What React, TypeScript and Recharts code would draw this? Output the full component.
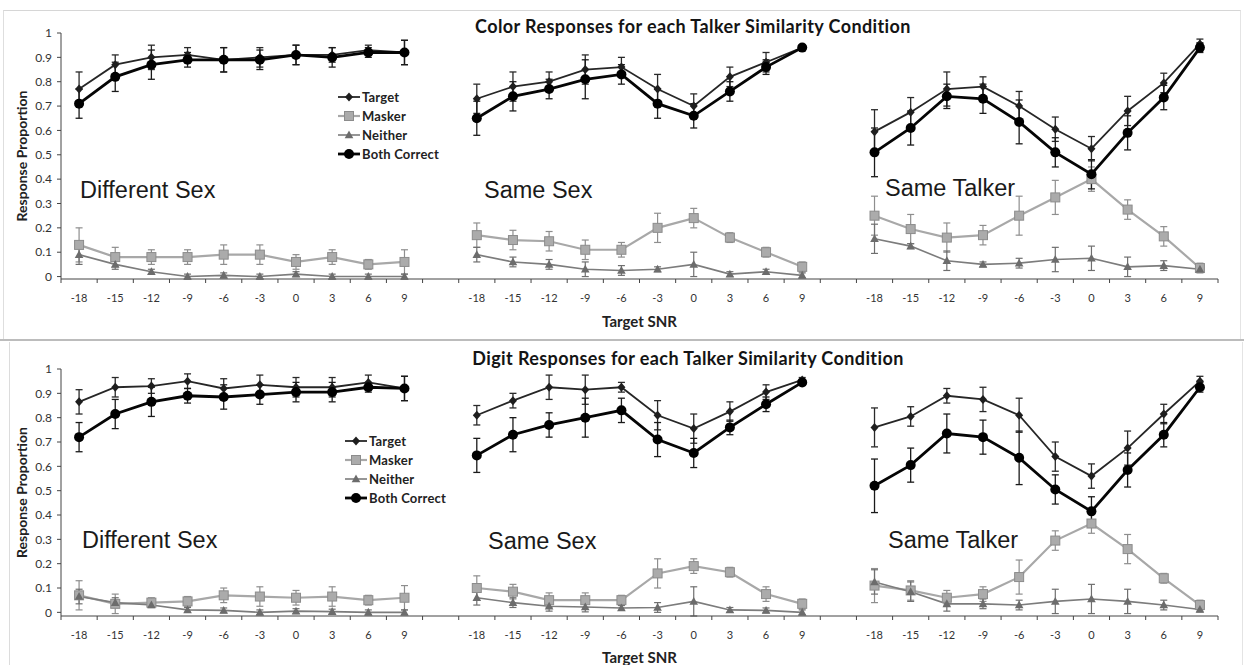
import React from 'react';
import { LineChart, Line, XAxis, YAxis, ErrorBar, Legend, Label } from 'recharts';

// SNR levels (dB) repeated for each talker-similarity condition
const snrLabels = ['-18', '-15', '-12', '-9', '-6', '-3', '0', '3', '6', '9'];
const conditions = ['Different Sex', 'Same Sex', 'Same Talker'];
const seriesNames = ['Target', 'Masker', 'Neither', 'Both Correct'];
const yTicks = [0, 0.1, 0.2, 0.3, 0.4, 0.5, 0.6, 0.7, 0.8, 0.9, 1];

// Color responses: Different Sex, Same Sex, Same Talker (10 SNRs each)
const colorTarget = [
  0.77, 0.87, 0.9, 0.91, 0.89, 0.9, 0.91, 0.91, 0.93, 0.92,
  0.73, 0.78, 0.8, 0.85, 0.86, 0.77, 0.7, 0.82, 0.88, 0.94,
  0.595, 0.675, 0.77, 0.78, 0.7, 0.605, 0.525, 0.68, 0.795, 0.955,
];
const colorTargetErr = [
  0.07, 0.04, 0.05, 0.03, 0.05, 0.04, 0.04, 0.03, 0.02, 0.05,
  0.06, 0.06, 0.04, 0.06, 0.04, 0.06, 0.05, 0.04, 0.04, 0.01,
  0.09, 0.06, 0.07, 0.04, 0.06, 0.05, 0.05, 0.06, 0.04, 0.02,
];
const colorMasker = [
  0.13, 0.08, 0.08, 0.08, 0.09, 0.09, 0.06, 0.08, 0.05, 0.06,
  0.17, 0.15, 0.145, 0.11, 0.11, 0.2, 0.24, 0.16, 0.1, 0.04,
  0.25, 0.195, 0.16, 0.17, 0.25, 0.325, 0.4, 0.275, 0.165, 0.035,
];
const colorMaskerErr = [
  0.07, 0.04, 0.03, 0.03, 0.04, 0.04, 0.03, 0.03, 0.02, 0.05,
  0.05, 0.04, 0.04, 0.04, 0.03, 0.06, 0.04, 0.02, 0.02, 0.02,
  0.08, 0.06, 0.06, 0.04, 0.08, 0.07, 0.05, 0.04, 0.04, 0.02,
];
const colorNeither = [
  0.09, 0.05, 0.02, 0.0, 0.005, 0.0, 0.01, 0.0, 0.0, 0.0,
  0.09, 0.06, 0.05, 0.03, 0.025, 0.03, 0.05, 0.01, 0.02, 0.005,
  0.155, 0.125, 0.065, 0.05, 0.055, 0.07, 0.075, 0.04, 0.045, 0.03,
];
const colorNeitherErr = [
  0.04, 0.02, 0.01, 0.01, 0.01, 0.01, 0.01, 0.01, 0.01, 0.01,
  0.03, 0.02, 0.02, 0.03, 0.02, 0.01, 0.05, 0.01, 0.01, 0.01,
  0.06, 0.01, 0.04, 0.01, 0.02, 0.05, 0.05, 0.04, 0.02, 0.01,
];
const colorBoth = [
  0.71, 0.82, 0.87, 0.89, 0.89, 0.89, 0.91, 0.9, 0.92, 0.92,
  0.65, 0.74, 0.77, 0.81, 0.83, 0.71, 0.66, 0.76, 0.86, 0.94,
  0.51, 0.61, 0.74, 0.73, 0.635, 0.51, 0.42, 0.59, 0.735, 0.94,
];
const colorBothErr = [
  0.06, 0.06, 0.06, 0.03, 0.05, 0.04, 0.04, 0.04, 0.02, 0.05,
  0.07, 0.06, 0.04, 0.08, 0.04, 0.06, 0.05, 0.04, 0.03, 0.01,
  0.1, 0.07, 0.05, 0.06, 0.09, 0.06, 0.06, 0.07, 0.05, 0.02,
];

// Digit responses: Different Sex, Same Sex, Same Talker (10 SNRs each)
const digitTarget = [
  0.865, 0.925, 0.93, 0.95, 0.92, 0.935, 0.925, 0.925, 0.945, 0.92,
  0.81, 0.87, 0.925, 0.915, 0.925, 0.81, 0.755, 0.825, 0.905, 0.955,
  0.76, 0.805, 0.89, 0.875, 0.81, 0.64, 0.56, 0.675, 0.815, 0.95,
];
const digitTargetErr = [
  0.05, 0.04, 0.03, 0.03, 0.04, 0.04, 0.04, 0.04, 0.03, 0.05,
  0.04, 0.03, 0.05, 0.06, 0.02, 0.06, 0.06, 0.04, 0.03, 0.01,
  0.08, 0.04, 0.03, 0.05, 0.07, 0.06, 0.05, 0.07, 0.04, 0.02,
];
const digitMasker = [
  0.07, 0.035, 0.04, 0.045, 0.07, 0.065, 0.06, 0.065, 0.05, 0.06,
  0.1, 0.085, 0.05, 0.05, 0.05, 0.16, 0.19, 0.165, 0.075, 0.035,
  0.11, 0.09, 0.06, 0.075, 0.145, 0.295, 0.365, 0.26, 0.14, 0.03,
];
const digitMaskerErr = [
  0.06, 0.04, 0.02, 0.02, 0.03, 0.04, 0.03, 0.04, 0.02, 0.05,
  0.05, 0.03, 0.03, 0.03, 0.02, 0.06, 0.03, 0.02, 0.03, 0.02,
  0.07, 0.04, 0.03, 0.03, 0.07, 0.04, 0.04, 0.06, 0.02, 0.02,
];
const digitNeither = [
  0.065, 0.04, 0.03, 0.01, 0.008, 0.0, 0.005, 0.003, 0.0, 0.0,
  0.06, 0.04, 0.025, 0.022, 0.018, 0.02, 0.045, 0.01, 0.008, 0.0,
  0.125, 0.085, 0.035, 0.035, 0.03, 0.045, 0.055, 0.045, 0.03, 0.012,
];
const digitNeitherErr = [
  0.03, 0.02, 0.01, 0.01, 0.01, 0.01, 0.01, 0.01, 0.01, 0.01,
  0.03, 0.02, 0.02, 0.02, 0.01, 0.02, 0.06, 0.01, 0.01, 0.01,
  0.05, 0.04, 0.03, 0.02, 0.02, 0.05, 0.06, 0.05, 0.02, 0.01,
];
const digitBoth = [
  0.72, 0.815, 0.865, 0.89, 0.885, 0.895, 0.905, 0.905, 0.925, 0.92,
  0.645, 0.73, 0.77, 0.8, 0.83, 0.71, 0.655, 0.76, 0.855, 0.945,
  0.52, 0.605, 0.735, 0.72, 0.635, 0.505, 0.415, 0.585, 0.73, 0.925,
];
const digitBothErr = [
  0.06, 0.06, 0.06, 0.03, 0.05, 0.04, 0.04, 0.04, 0.02, 0.05,
  0.07, 0.07, 0.05, 0.08, 0.05, 0.07, 0.06, 0.03, 0.03, 0.01,
  0.11, 0.07, 0.08, 0.07, 0.11, 0.06, 0.06, 0.07, 0.05, 0.02,
];

type Row = {
  pos: number;
  label?: string;
  target: number | null;
  targetErr: number | null;
  masker: number | null;
  maskerErr: number | null;
  neither: number | null;
  neitherErr: number | null;
  both: number | null;
  bothErr: number | null;
};

// One x slot per SNR, with an empty slot between conditions so the lines break
function buildRows(
  t: number[], te: number[], m: number[], me: number[],
  n: number[], ne: number[], b: number[], be: number[]
): Row[] {
  const rows: Row[] = [];
  conditions.forEach((_, g) => {
    if (g > 0) {
      rows.push({
        pos: g * 11 - 1, target: null, targetErr: null, masker: null, maskerErr: null,
        neither: null, neitherErr: null, both: null, bothErr: null,
      });
    }
    snrLabels.forEach((lbl, i) => {
      const k = g * 10 + i;
      rows.push({
        pos: g * 11 + i, label: lbl,
        target: t[k], targetErr: te[k],
        masker: m[k], maskerErr: me[k],
        neither: n[k], neitherErr: ne[k],
        both: b[k], bothErr: be[k],
      });
    });
  });
  return rows;
}

const colorRows = buildRows(colorTarget, colorTargetErr, colorMasker, colorMaskerErr,
  colorNeither, colorNeitherErr, colorBoth, colorBothErr);
const digitRows = buildRows(digitTarget, digitTargetErr, digitMasker, digitMaskerErr,
  digitNeither, digitNeitherErr, digitBoth, digitBothErr);

const FONT = 'Lato, "Open Sans", sans-serif';

const STYLE = {
  target: { stroke: '#262626', width: 1.8, bar: '#2a2a2a' },
  masker: { stroke: '#a8a8a8', width: 2.2, bar: '#8e8e8e' },
  neither: { stroke: '#7c7c7c', width: 1.6, bar: '#6f6f6f' },
  both: { stroke: '#050505', width: 2.8, bar: '#1a1a1a' },
};

// Marker shapes
const diamond = (cx: number, cy: number, key?: string | number) => (
  <path key={key} d={`M${cx},${cy - 4.5}L${cx + 4},${cy}L${cx},${cy + 4.5}L${cx - 4},${cy}Z`} fill="#1e1e1e" />
);
const square = (cx: number, cy: number, key?: string | number) => (
  <rect key={key} x={cx - 4.5} y={cy - 4.5} width={9} height={9} fill="#ababab" stroke="#8c8c8c" strokeWidth={1} />
);
const triangle = (cx: number, cy: number, key?: string | number) => (
  <path key={key} d={`M${cx},${cy - 4.5}L${cx + 4.3},${cy + 3.3}L${cx - 4.3},${cy + 3.3}Z`} fill="#6c6c6c" />
);
const circle = (cx: number, cy: number, key?: string | number) => (
  <circle key={key} cx={cx} cy={cy} r={5} fill="#000" />
);

const makeDot = (shape: (cx: number, cy: number, key?: string | number) => React.ReactElement) =>
  (props: any) => {
    const { cx, cy, index } = props;
    if (cx == null || cy == null || Number.isNaN(cx) || Number.isNaN(cy)) {
      return <g key={`d-${index}`} />;
    }
    return shape(cx, cy, `d-${index}`);
  };

const legendItems = [
  { name: seriesNames[0], style: STYLE.target, shape: diamond },
  { name: seriesNames[1], style: STYLE.masker, shape: square },
  { name: seriesNames[2], style: STYLE.neither, shape: triangle },
  { name: seriesNames[3], style: STYLE.both, shape: circle },
];

const LegendBox = () => (
  <div style={{ fontFamily: FONT, fontSize: 13, fontWeight: 700, color: '#222', letterSpacing: 0.2 }}>
    {legendItems.map((it) => (
      <div key={it.name} style={{ display: 'flex', alignItems: 'center', height: 19 }}>
        <svg width={24} height={12} style={{ marginRight: 1 }}>
          <line x1={1} x2={23} y1={6} y2={6} stroke={it.style.stroke} strokeWidth={it.style.width} />
          {it.shape(12, 6)}
        </svg>
        <span style={{ whiteSpace: 'nowrap' }}>{it.name}</span>
      </div>
    ))}
  </div>
);

// Ticks at every slot centre (labels) and every slot boundary (tick marks)
const xTicks: number[] = [];
for (let k = -0.5; k <= 31.5; k += 0.5) xTicks.push(k);

const SnrTick = (props: any) => {
  const { x, y, payload, rows } = props;
  const v: number = payload.value;
  if (Math.abs(v - Math.round(v)) > 0.01) {
    return <line x1={x} x2={x} y1={y} y2={y + 4} stroke="#444" strokeWidth={1} />;
  }
  const row = (rows as Row[]).find((r) => r.pos === Math.round(v));
  if (!row || !row.label) return <g />;
  return (
    <text x={x} y={y + 23} textAnchor="middle" fontFamily={FONT} fontSize={11} fill="#333">
      {row.label}
    </text>
  );
};

const fmtY = (v: number) => (v === 0 ? '0' : v === 1 ? '1' : v.toFixed(1));

type PanelProps = {
  rows: Row[];
  height: number;
  marginTop: number;
  marginBottom: number;
  axisHeight: number;
  legendTop: number;
  legendLeft: number;
};

function Panel({ rows, height, marginTop, marginBottom, axisHeight, legendTop, legendLeft }: PanelProps) {
  return (
    <LineChart
      width={1244}
      height={height}
      data={rows}
      margin={{ top: marginTop, right: 26, left: 11, bottom: marginBottom }}
    >
      <XAxis
        type="number"
        dataKey="pos"
        domain={[-0.5, 31.5]}
        ticks={xTicks}
        interval={0}
        tickSize={0}
        tickMargin={0}
        tickLine={false}
        height={axisHeight}
        axisLine={{ stroke: '#444', strokeWidth: 1 }}
        tick={<SnrTick rows={rows} />}
      >
        <Label
          value="Target SNR"
          position="insideBottom"
          offset={2}
          style={{ fontFamily: FONT, fontSize: 15, fontWeight: 700, fill: '#222' }}
        />
      </XAxis>
      <YAxis
        domain={[0, 1]}
        ticks={yTicks}
        interval={0}
        width={50}
        tickSize={4}
        tickMargin={5}
        tickFormatter={fmtY}
        axisLine={{ stroke: '#444', strokeWidth: 1 }}
        tickLine={{ stroke: '#444' }}
        tick={{ fontFamily: FONT, fontSize: 12, fill: '#333' }}
      >
        <Label
          value="Response Proportion"
          angle={-90}
          position="insideLeft"
          offset={11}
          style={{ textAnchor: 'middle', fontFamily: FONT, fontSize: 14, fontWeight: 700, fill: '#222' }}
        />
      </YAxis>
      <Legend
        layout="vertical"
        align="center"
        verticalAlign="middle"
        content={() => <LegendBox />}
        wrapperStyle={{ left: legendLeft, top: legendTop, width: 130 }}
      />
      <Line
        dataKey="masker"
        name={seriesNames[1]}
        stroke={STYLE.masker.stroke}
        strokeWidth={STYLE.masker.width}
        dot={makeDot(square)}
        activeDot={false}
        isAnimationActive={false}
      >
        <ErrorBar dataKey="maskerErr" width={3.5} stroke={STYLE.masker.bar} strokeWidth={1.2} direction="y" />
      </Line>
      <Line
        dataKey="neither"
        name={seriesNames[2]}
        stroke={STYLE.neither.stroke}
        strokeWidth={STYLE.neither.width}
        dot={makeDot(triangle)}
        activeDot={false}
        isAnimationActive={false}
      >
        <ErrorBar dataKey="neitherErr" width={3.5} stroke={STYLE.neither.bar} strokeWidth={1.2} direction="y" />
      </Line>
      <Line
        dataKey="target"
        name={seriesNames[0]}
        stroke={STYLE.target.stroke}
        strokeWidth={STYLE.target.width}
        dot={makeDot(diamond)}
        activeDot={false}
        isAnimationActive={false}
      >
        <ErrorBar dataKey="targetErr" width={3.5} stroke={STYLE.target.bar} strokeWidth={1.3} direction="y" />
      </Line>
      <Line
        dataKey="both"
        name={seriesNames[3]}
        stroke={STYLE.both.stroke}
        strokeWidth={STYLE.both.width}
        dot={makeDot(circle)}
        activeDot={false}
        isAnimationActive={false}
      >
        <ErrorBar dataKey="bothErr" width={3.5} stroke={STYLE.both.bar} strokeWidth={1.3} direction="y" />
      </Line>
    </LineChart>
  );
}

const conditionLabel: React.CSSProperties = {
  position: 'absolute',
  fontFamily: '"Liberation Sans", Arial, sans-serif',
  fontSize: 23.5,
  lineHeight: '26px',
  color: '#1a1a1a',
  whiteSpace: 'nowrap',
};

const titleStyle: React.CSSProperties = {
  position: 'absolute',
  width: 600,
  textAlign: 'center',
  fontFamily: FONT,
  fontWeight: 700,
  fontSize: 18,
  letterSpacing: 0.4,
  lineHeight: '22px',
  color: '#141414',
};

export default function App() {
  return (
    <div
      style={{
        position: 'absolute',
        left: 0,
        top: 0,
        width: 1244,
        height: 665,
        background: '#fff',
        overflow: 'hidden',
      }}
    >
      {/* panel frames */}
      <div style={{ position: 'absolute', left: 3, top: 10, width: 1236, height: 328, borderTop: '1px solid #d6d6d6', borderLeft: '1px solid #dedede', borderRight: '1px solid #e4e4e4' }} />
      <div style={{ position: 'absolute', left: 0, top: 339, width: 1244, height: 0, borderTop: '2px solid #bcbcbc' }} />
      <div style={{ position: 'absolute', left: 9, top: 342, width: 1232, height: 330, borderLeft: '1px solid #dcdcdc', borderRight: '1px solid #e4e4e4' }} />

      <div style={{ position: 'absolute', left: 0, top: 0 }}>
        <Panel rows={colorRows} height={335} marginTop={33} marginBottom={6} axisHeight={50} legendTop={87} legendLeft={337} />
      </div>
      <div style={{ position: 'absolute', left: 0, top: 340 }}>
        <Panel rows={digitRows} height={325} marginTop={29} marginBottom={0} axisHeight={49} legendTop={91} legendLeft={344} />
      </div>

      <div style={{ ...titleStyle, left: 393, top: 15 }}>Color Responses for each Talker Similarity Condition</div>
      <div style={{ ...titleStyle, left: 388, top: 347 }}>Digit Responses for each Talker Similarity Condition</div>

      <div style={{ ...conditionLabel, left: 80, top: 177 }}>{conditions[0]}</div>
      <div style={{ ...conditionLabel, left: 484, top: 177 }}>{conditions[1]}</div>
      <div style={{ ...conditionLabel, left: 885, top: 175 }}>{conditions[2]}</div>
      <div style={{ ...conditionLabel, left: 82, top: 527 }}>{conditions[0]}</div>
      <div style={{ ...conditionLabel, left: 488, top: 528 }}>{conditions[1]}</div>
      <div style={{ ...conditionLabel, left: 888, top: 527 }}>{conditions[2]}</div>
    </div>
  );
}
